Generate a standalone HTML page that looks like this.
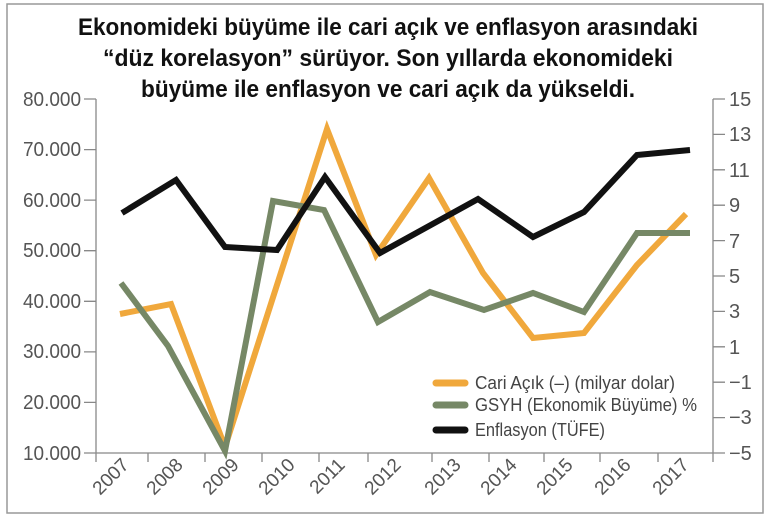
<!DOCTYPE html>
<html><head><meta charset="utf-8"><style>
body{margin:0;background:#fff;}
svg{display:block;font-family:"Liberation Sans",sans-serif;}
</style></head><body>
<svg width="770" height="515" viewBox="0 0 770 515">
<rect x="7" y="4" width="756" height="509" fill="#fff" stroke="#999" stroke-width="1.5"/>
<g font-weight="bold" font-size="24" fill="#111" text-anchor="middle">
<text x="388" y="35" textLength="620" lengthAdjust="spacingAndGlyphs">Ekonomideki büyüme ile cari açık ve enflasyon arasındaki</text>
<text x="388" y="66" textLength="570" lengthAdjust="spacingAndGlyphs">“düz korelasyon” sürüyor. Son yıllarda ekonomideki</text>
<text x="388" y="97" textLength="494" lengthAdjust="spacingAndGlyphs">büyüme ile enflasyon ve cari açık da yükseldi.</text>
</g>
<g stroke="#888" stroke-width="1.3" fill="none">
<line x1="96" y1="99" x2="96" y2="462"/>
<line x1="713" y1="99" x2="713" y2="462"/>
<line x1="84" y1="453" x2="725" y2="453"/>
<path d="M84 99H96M84 149.6H96M84 200.1H96M84 250.7H96M84 301.3H96M84 351.9H96M84 402.4H96"/>
<path d="M713 99H725M713 134.4H725M713 169.8H725M713 205.2H725M713 240.6H725M713 276H725M713 311.4H725M713 346.8H725M713 382.2H725M713 417.6H725"/>
<path d="M148 453V462M205 453V462M262 453V462M319 453V462M368 453V462M432 453V462M489 453V462M544 453V462M600 453V462M658 453V462"/>
</g>
<g font-size="20" fill="#555" text-anchor="end">
<text x="81" y="106" textLength="58" lengthAdjust="spacingAndGlyphs">80.000</text><text x="81" y="156" textLength="58" lengthAdjust="spacingAndGlyphs">70.000</text><text x="81" y="207" textLength="58" lengthAdjust="spacingAndGlyphs">60.000</text><text x="81" y="257" textLength="58" lengthAdjust="spacingAndGlyphs">50.000</text><text x="81" y="308" textLength="58" lengthAdjust="spacingAndGlyphs">40.000</text><text x="81" y="358" textLength="58" lengthAdjust="spacingAndGlyphs">30.000</text><text x="81" y="409" textLength="58" lengthAdjust="spacingAndGlyphs">20.000</text><text x="81" y="460" textLength="58" lengthAdjust="spacingAndGlyphs">10.000</text>
</g>
<g font-size="20" fill="#555">
<text x="729" y="106">15</text><text x="729" y="141">13</text><text x="729" y="177">11</text><text x="729" y="212">9</text><text x="729" y="248">7</text><text x="729" y="283">5</text><text x="729" y="318">3</text><text x="729" y="354">1</text><text x="729" y="389">−1</text><text x="729" y="424">−3</text><text x="729" y="460">−5</text>
</g>
<g font-size="19" fill="#555" text-anchor="end">
<text transform="translate(130,466) rotate(-45)">2007</text>
<text transform="translate(184,466) rotate(-45)">2008</text>
<text transform="translate(240,466) rotate(-45)">2009</text>
<text transform="translate(296,466) rotate(-45)">2010</text>
<text transform="translate(346,466) rotate(-45)">2011</text>
<text transform="translate(402,466) rotate(-45)">2012</text>
<text transform="translate(462,466) rotate(-45)">2013</text>
<text transform="translate(518,466) rotate(-45)">2014</text>
<text transform="translate(574,466) rotate(-45)">2015</text>
<text transform="translate(632,466) rotate(-45)">2016</text>
<text transform="translate(690,466) rotate(-45)">2017</text>
</g>
<g fill="none" stroke-width="6" stroke-linejoin="miter">
<polyline stroke="#f0a83c" points="120,314 171,304 225,447 327,129 376,255 429,178 483,273 533,338 584,333 637,265 686,214"/>
<polyline stroke="#768866" points="121,283 168,346 225,451 273,201 324,210 378,322 430,292 484,310 533,293 584,312 637,233 690,233"/>
<polyline stroke="#111" points="122,213 176,180 225,247 277,250 325,177 380,253 478,199 533,237 584,212 637,155 690,150"/>
</g>
<g stroke-width="7" stroke-linecap="round">
<line x1="436" y1="383" x2="465" y2="383" stroke="#f0a83c"/>
<line x1="436" y1="405" x2="465" y2="405" stroke="#768866"/>
<line x1="436" y1="430" x2="465" y2="430" stroke="#111"/>
</g>
<g font-size="18" fill="#444">
<text x="475" y="389" textLength="200" lengthAdjust="spacingAndGlyphs">Cari Açık  (–) (milyar dolar)</text>
<text x="475" y="411" textLength="222" lengthAdjust="spacingAndGlyphs">GSYH (Ekonomik Büyüme) %</text>
<text x="475" y="436" textLength="130" lengthAdjust="spacingAndGlyphs">Enflasyon (TÜFE)</text>
</g>
</svg>
</body></html>
